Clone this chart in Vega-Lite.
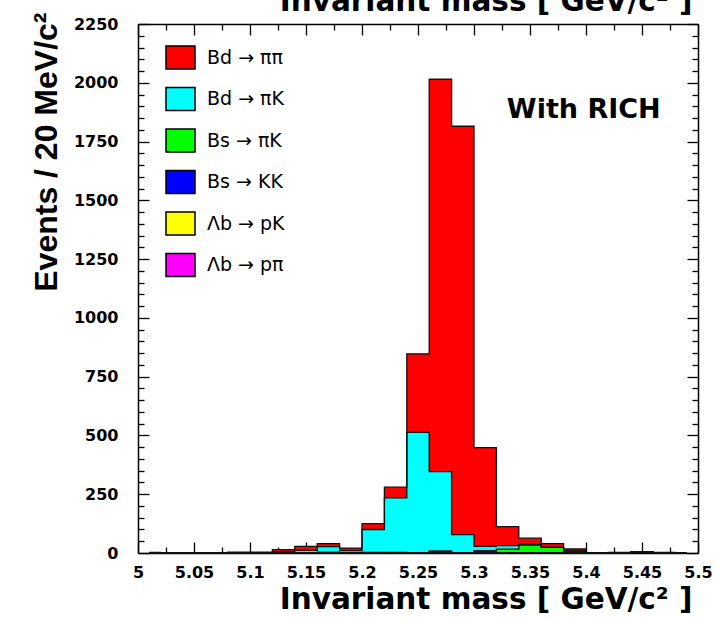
{
  "$schema": "https://vega.github.io/schema/vega-lite/v6.json",
  "width": 560,
  "height": 529,
  "autosize": "none",
  "padding": {"left": 138, "top": 24, "right": 20, "bottom": 68},
  "background": "white",
  "config": {
    "view": {"stroke": null},
    "font": "DejaVu Sans",
    "axis": {
      "grid": false,
      "domainColor": "#000",
      "domainWidth": 1.5,
      "tickColor": "#000",
      "tickWidth": 1.3,
      "labelFont": "DejaVu Sans",
      "labelFontWeight": "bold",
      "labelFontSize": 16,
      "labelColor": "#000",
      "labelOverlap": false,
      "labelBound": false,
      "titleColor": "#000"
    }
  },
  "datasets": {
    "bins": [
      {"m": 5.01, "s1_bd_pipi": 3, "s2_bd_pik": 0, "s3_bs_pik": 0, "s4_bs_kk": 0, "s5_lb_pk": 0, "s6_lb_ppi": 0},
      {"m": 5.03, "s1_bd_pipi": 0, "s2_bd_pik": 0, "s3_bs_pik": 0, "s4_bs_kk": 0, "s5_lb_pk": 0, "s6_lb_ppi": 0},
      {"m": 5.05, "s1_bd_pipi": 0, "s2_bd_pik": 0, "s3_bs_pik": 0, "s4_bs_kk": 0, "s5_lb_pk": 0, "s6_lb_ppi": 0},
      {"m": 5.07, "s1_bd_pipi": 2, "s2_bd_pik": 0, "s3_bs_pik": 0, "s4_bs_kk": 0, "s5_lb_pk": 0, "s6_lb_ppi": 0},
      {"m": 5.09, "s1_bd_pipi": 3, "s2_bd_pik": 1, "s3_bs_pik": 0, "s4_bs_kk": 0, "s5_lb_pk": 0, "s6_lb_ppi": 0},
      {"m": 5.11, "s1_bd_pipi": 3, "s2_bd_pik": 1, "s3_bs_pik": 0, "s4_bs_kk": 0, "s5_lb_pk": 0, "s6_lb_ppi": 0},
      {"m": 5.13, "s1_bd_pipi": 8, "s2_bd_pik": 5, "s3_bs_pik": 1, "s4_bs_kk": 0, "s5_lb_pk": 0, "s6_lb_ppi": 0},
      {"m": 5.15, "s1_bd_pipi": 17, "s2_bd_pik": 9, "s3_bs_pik": 2, "s4_bs_kk": 0, "s5_lb_pk": 0, "s6_lb_ppi": 0},
      {"m": 5.17, "s1_bd_pipi": 13, "s2_bd_pik": 23, "s3_bs_pik": 2, "s4_bs_kk": 2, "s5_lb_pk": 0, "s6_lb_ppi": 0},
      {"m": 5.19, "s1_bd_pipi": 11, "s2_bd_pik": 10, "s3_bs_pik": 0, "s4_bs_kk": 0, "s5_lb_pk": 0, "s6_lb_ppi": 0},
      {"m": 5.21, "s1_bd_pipi": 25, "s2_bd_pik": 97, "s3_bs_pik": 1, "s4_bs_kk": 2, "s5_lb_pk": 0, "s6_lb_ppi": 0},
      {"m": 5.23, "s1_bd_pipi": 45, "s2_bd_pik": 232, "s3_bs_pik": 1, "s4_bs_kk": 2, "s5_lb_pk": 0, "s6_lb_ppi": 0},
      {"m": 5.25, "s1_bd_pipi": 334, "s2_bd_pik": 511, "s3_bs_pik": 0, "s4_bs_kk": 2, "s5_lb_pk": 0, "s6_lb_ppi": 0},
      {"m": 5.27, "s1_bd_pipi": 1669, "s2_bd_pik": 338, "s3_bs_pik": 0, "s4_bs_kk": 8, "s5_lb_pk": 0, "s6_lb_ppi": 0},
      {"m": 5.29, "s1_bd_pipi": 1737, "s2_bd_pik": 77, "s3_bs_pik": 0, "s4_bs_kk": 1, "s5_lb_pk": 0, "s6_lb_ppi": 0},
      {"m": 5.31, "s1_bd_pipi": 420, "s2_bd_pik": 18, "s3_bs_pik": 0, "s4_bs_kk": 10, "s5_lb_pk": 0, "s6_lb_ppi": 0},
      {"m": 5.33, "s1_bd_pipi": 81, "s2_bd_pik": 15, "s3_bs_pik": 16, "s4_bs_kk": 0, "s5_lb_pk": 0, "s6_lb_ppi": 0},
      {"m": 5.35, "s1_bd_pipi": 26, "s2_bd_pik": 3, "s3_bs_pik": 34, "s4_bs_kk": 0, "s5_lb_pk": 0, "s6_lb_ppi": 0},
      {"m": 5.37, "s1_bd_pipi": 16, "s2_bd_pik": 0, "s3_bs_pik": 24, "s4_bs_kk": 0, "s5_lb_pk": 0, "s6_lb_ppi": 0},
      {"m": 5.39, "s1_bd_pipi": 9, "s2_bd_pik": 0, "s3_bs_pik": 8, "s4_bs_kk": 0, "s5_lb_pk": 0, "s6_lb_ppi": 0},
      {"m": 5.41, "s1_bd_pipi": 0, "s2_bd_pik": 0, "s3_bs_pik": 0, "s4_bs_kk": 0, "s5_lb_pk": 0, "s6_lb_ppi": 0},
      {"m": 5.43, "s1_bd_pipi": 3, "s2_bd_pik": 0, "s3_bs_pik": 0, "s4_bs_kk": 0, "s5_lb_pk": 0, "s6_lb_ppi": 0},
      {"m": 5.45, "s1_bd_pipi": 0, "s2_bd_pik": 0, "s3_bs_pik": 0, "s4_bs_kk": 0, "s5_lb_pk": 0, "s6_lb_ppi": 4},
      {"m": 5.47, "s1_bd_pipi": 3, "s2_bd_pik": 0, "s3_bs_pik": 0, "s4_bs_kk": 0, "s5_lb_pk": 0, "s6_lb_ppi": 0},
      {"m": 5.49, "s1_bd_pipi": 1, "s2_bd_pik": 0, "s3_bs_pik": 0, "s4_bs_kk": 0, "s5_lb_pk": 0, "s6_lb_ppi": 0}
    ]
  },
  "data": {"name": "bins"},
  "transform": [
    {"fold": ["s1_bd_pipi", "s2_bd_pik", "s3_bs_pik", "s4_bs_kk", "s5_lb_pk", "s6_lb_ppi"], "as": ["channel", "n"]}
  ],
  "layer": [
    {
      "mark": {"type": "area", "interpolate": "step"},
      "encoding": {
        "x": {
          "field": "m",
          "type": "quantitative",
          "scale": {"domain": [5, 5.5], "nice": false, "zero": false},
          "axis": {
            "orient": "bottom",
            "values": [5, 5.025, 5.05, 5.075, 5.1, 5.125, 5.15, 5.175, 5.2, 5.225, 5.25, 5.275, 5.3, 5.325, 5.35, 5.375, 5.4, 5.425, 5.45, 5.475, 5.5],
            "format": "~g",
            "labelExpr": "round(datum.value * 1000) % 50 === 0 ? datum.label : ''",
            "tickSize": {"condition": {"test": "round(datum.value * 1000) % 50 === 0", "value": -11}, "value": -6},
            "labelPadding": 22,
            "labelFlush": false,
            "title": "Invariant mass  [ GeV/c² ]",
            "titleFont": "DejaVu Sans",
            "titleFontWeight": "bold",
            "titleFontSize": 29.5,
            "titleAlign": "right",
            "titleBaseline": "alphabetic",
            "titleX": 554,
            "titleY": 55
          }
        },
        "y": {
          "field": "n",
          "type": "quantitative",
          "stack": "zero",
          "scale": {"domain": [0, 2250], "nice": false},
          "axis": {
            "orient": "left",
            "values": [0, 50, 100, 150, 200, 250, 300, 350, 400, 450, 500, 550, 600, 650, 700, 750, 800, 850, 900, 950, 1000, 1050, 1100, 1150, 1200, 1250, 1300, 1350, 1400, 1450, 1500, 1550, 1600, 1650, 1700, 1750, 1800, 1850, 1900, 1950, 2000, 2050, 2100, 2150, 2200, 2250],
            "format": "d",
            "labelExpr": "datum.value % 250 === 0 ? datum.label : ''",
            "tickSize": {"condition": {"test": "datum.value % 250 === 0", "value": -11}, "value": -6},
            "labelPadding": 31,
            "title": "Events  /  20 MeV/c²",
            "titleFont": "Liberation Sans",
            "titleFontWeight": "bold",
            "titleFontSize": 32,
            "titleAngle": 270,
            "titleAlign": "right",
            "titleBaseline": "alphabetic",
            "titleX": -82,
            "titleY": -12
          }
        },
        "color": {
          "field": "channel",
          "type": "nominal",
          "scale": {
            "domain": ["s1_bd_pipi", "s2_bd_pik", "s3_bs_pik", "s4_bs_kk", "s5_lb_pk", "s6_lb_ppi"],
            "range": ["#ff0000", "#00ffff", "#00ff00", "#0000ff", "#ffff00", "#ff00ff"]
          },
          "legend": {
            "orient": "none",
            "legendX": 27,
            "legendY": 18,
            "title": null,
            "padding": 0,
            "symbolType": "M-1,-0.8H1V0.8H-1Z",
            "symbolSize": 841,
            "symbolStrokeColor": "#000",
            "symbolStrokeWidth": 1.5,
            "symbolOpacity": 1,
            "labelFont": "DejaVu Sans",
            "labelFontSize": 19,
            "labelColor": "#000",
            "labelOffset": 11,
            "rowPadding": 10.5,
            "labelExpr": "datum.label === 's1_bd_pipi' ? 'Bd → ππ' : datum.label === 's2_bd_pik' ? 'Bd → πK' : datum.label === 's3_bs_pik' ? 'Bs → πK' : datum.label === 's4_bs_kk' ? 'Bs → KK' : datum.label === 's5_lb_pk' ? 'Λb → pK' : 'Λb → pπ'"
          }
        }
      }
    },
    {
      "mark": {"type": "line", "interpolate": "step", "color": "#111", "strokeWidth": 1.3},
      "encoding": {
        "x": {
          "field": "m",
          "type": "quantitative",
          "axis": {
            "orient": "top",
            "values": [5, 5.025, 5.05, 5.075, 5.1, 5.125, 5.15, 5.175, 5.2, 5.225, 5.25, 5.275, 5.3, 5.325, 5.35, 5.375, 5.4, 5.425, 5.45, 5.475, 5.5],
            "labels": false,
            "tickSize": {"condition": {"test": "round(datum.value * 1000) % 50 === 0", "value": -11}, "value": -6},
            "title": "Invariant mass  [ GeV/c² ]",
            "titleFont": "DejaVu Sans",
            "titleFontWeight": "bold",
            "titleFontSize": 29.5,
            "titleAlign": "right",
            "titleBaseline": "alphabetic",
            "titleX": 554,
            "titleY": -14
          }
        },
        "y": {
          "field": "n",
          "type": "quantitative",
          "stack": "zero",
          "axis": {
            "orient": "right",
            "values": [0, 50, 100, 150, 200, 250, 300, 350, 400, 450, 500, 550, 600, 650, 700, 750, 800, 850, 900, 950, 1000, 1050, 1100, 1150, 1200, 1250, 1300, 1350, 1400, 1450, 1500, 1550, 1600, 1650, 1700, 1750, 1800, 1850, 1900, 1950, 2000, 2050, 2100, 2150, 2200, 2250],
            "labels": false,
            "tickSize": {"condition": {"test": "datum.value % 250 === 0", "value": -11}, "value": -6},
            "title": null
          }
        },
        "detail": {"field": "channel", "type": "nominal"}
      }
    },
    {
      "data": {"values": [{"note": "With RICH"}]},
      "mark": {"type": "text", "font": "DejaVu Sans", "fontWeight": "bold", "fontSize": 27, "color": "#000", "align": "center", "baseline": "middle"},
      "encoding": {
        "x": {"datum": 5.398, "type": "quantitative", "axis": null},
        "y": {"datum": 1885, "type": "quantitative", "axis": null},
        "text": {"field": "note"}
      }
    }
  ],
  "resolve": {"axis": {"x": "independent", "y": "independent"}}
}
